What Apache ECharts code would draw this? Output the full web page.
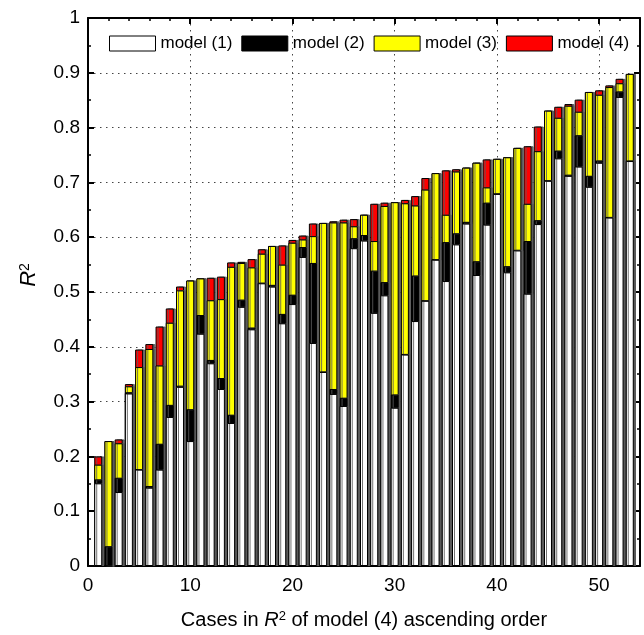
<!DOCTYPE html>
<html>
<head>
<meta charset="utf-8">
<script src="https://cdn.jsdelivr.net/npm/echarts@6/dist/echarts.min.js"></script>
<style>
  html, body { margin: 0; padding: 0; background: #fff; }
  #chart { width: 644px; height: 635px; }
</style>
</head>
<body>
<div id="chart"></div>
<script>
// R^2 of each model for the 53 cases, sorted by model (4)
const caseIds = Array.from({ length: 53 }, (_, i) => i + 1);

const model1 = [0.151, 0.000, 0.135, 0.315, 0.176, 0.143, 0.176, 0.272, 0.327, 0.228,
                0.424, 0.370, 0.323, 0.261, 0.473, 0.432, 0.516, 0.510, 0.443, 0.478,
                0.564, 0.407, 0.354, 0.314, 0.292, 0.580, 0.594, 0.462, 0.494, 0.289,
                0.386, 0.447, 0.484, 0.559, 0.520, 0.587, 0.625, 0.531, 0.623, 0.679,
                0.536, 0.576, 0.497, 0.624, 0.703, 0.744, 0.712, 0.729, 0.692, 0.736,
                0.636, 0.856, 0.739];

const model2 = [0.158, 0.036, 0.161, 0.317, 0.177, 0.146, 0.223, 0.294, 0.329, 0.286,
                0.458, 0.376, 0.343, 0.276, 0.486, 0.435, 0.517, 0.513, 0.460, 0.495,
                0.582, 0.553, 0.355, 0.323, 0.307, 0.598, 0.604, 0.539, 0.518, 0.313,
                0.387, 0.530, 0.485, 0.560, 0.591, 0.607, 0.628, 0.556, 0.663, 0.680,
                0.547, 0.577, 0.593, 0.631, 0.704, 0.758, 0.714, 0.786, 0.712, 0.740,
                0.637, 0.866, 0.740];

const model3 = [0.185, 0.228, 0.224, 0.328, 0.363, 0.396, 0.366, 0.444, 0.503, 0.521,
                0.525, 0.485, 0.487, 0.546, 0.553, 0.545, 0.570, 0.584, 0.550, 0.590,
                0.596, 0.602, 0.626, 0.627, 0.627, 0.620, 0.641, 0.593, 0.657, 0.664,
                0.662, 0.658, 0.687, 0.717, 0.641, 0.720, 0.727, 0.736, 0.691, 0.743,
                0.746, 0.763, 0.661, 0.757, 0.831, 0.818, 0.840, 0.829, 0.865, 0.860,
                0.874, 0.881, 0.898];

const model4 = [0.200, 0.228, 0.231, 0.332, 0.395, 0.405, 0.437, 0.470, 0.510, 0.521,
                0.525, 0.526, 0.528, 0.554, 0.555, 0.560, 0.578, 0.584, 0.585, 0.595,
                0.603, 0.625, 0.626, 0.629, 0.632, 0.633, 0.641, 0.661, 0.663, 0.664,
                0.668, 0.675, 0.708, 0.717, 0.722, 0.724, 0.727, 0.736, 0.742, 0.743,
                0.746, 0.763, 0.766, 0.802, 0.831, 0.838, 0.843, 0.851, 0.865, 0.868,
                0.877, 0.889, 0.898];

const seriesNames = ['model (1)', 'model (2)', 'model (3)', 'model (4)'];
const seriesColors = ['#ffffff', '#000000', '#ffff00', '#ff0000'];
const seriesValues = [model1, model2, model3, model4];

const FONT = "'Liberation Sans', Arial, Helvetica, sans-serif";

const chart = echarts.init(document.getElementById('chart'), null, { renderer: 'canvas' });

function pairs(vals) {
  return caseIds.map((c, i) => [c, vals[i]]);
}

// drawn back to front: the largest R^2 (model 4) sits behind the others
const series = [3, 2, 1, 0].map(k => ({
  name: seriesNames[k],
  type: 'bar',
  data: pairs(seriesValues[k]),
  barWidth: 8,
  barGap: '-100%',
  z: 2 + (3 - k),
  itemStyle: {
    color: seriesColors[k],
    borderColor: '#000',
    borderWidth: 1,
    shadowColor: 'rgba(90,90,90,0.85)',
    shadowOffsetX: 2,
    shadowBlur: 0
  },
  emphasis: { disabled: true },
  animation: false
}));

const axisLineStyle = { show: true, onZero: false, lineStyle: { color: '#000', width: 2 } };
const majorTick = { show: true, inside: true, length: 6, lineStyle: { color: '#000', width: 2 } };
function minor(n) {
  return { show: true, splitNumber: n, length: 3, lineStyle: { color: '#000', width: 1.5 } };
}
const gridDots = { show: true, lineStyle: { color: '#444', width: 1, type: [1.5, 4.5] } };

const option = {
  backgroundColor: '#fff',
  animation: false,
  textStyle: { fontFamily: FONT },
  grid: { left: 88, right: 4, top: 18, bottom: 66, containLabel: false },
  legend: {
    data: seriesNames,
    left: 104,
    top: 30,
    icon: 'rect',
    itemWidth: 46,
    itemHeight: 15,
    itemGap: 9,
    selectedMode: false,
    textStyle: { fontFamily: FONT, fontSize: 17, color: '#000' },
    itemStyle: { borderColor: '#000', borderWidth: 1, shadowColor: 'rgba(0,0,0,0)', shadowOffsetX: 0 }
  },
  xAxis: [
    {
      type: 'value',
      min: 0,
      max: 54,
      interval: 10,
      position: 'bottom',
      axisLine: axisLineStyle,
      axisTick: majorTick,
      minorTick: minor(5),
      axisLabel: { fontFamily: FONT, fontSize: 19, color: '#000', margin: 10, showMaxLabel: false },
      splitLine: gridDots,
      name: 'Cases in {it|R}{sup|2} of model (4) ascending order',
      nameLocation: 'middle',
      nameGap: 44,
      nameTextStyle: {
        fontFamily: FONT, fontSize: 20, color: '#000',
        rich: {
          it: { fontFamily: FONT, fontSize: 20, fontStyle: 'italic', color: '#000' },
          sup: { fontFamily: FONT, fontSize: 13, color: '#000', verticalAlign: 'top', padding: [0, 0, 6, 0] }
        }
      }
    },
    {
      type: 'value',
      min: 0,
      max: 54,
      interval: 10,
      position: 'top',
      axisLine: axisLineStyle,
      axisTick: majorTick,
      minorTick: minor(5),
      axisLabel: { show: false },
      splitLine: { show: false }
    }
  ],
  yAxis: [
    {
      type: 'value',
      min: 0,
      max: 1,
      interval: 0.1,
      position: 'left',
      axisLine: axisLineStyle,
      axisTick: majorTick,
      minorTick: minor(2),
      axisLabel: { fontFamily: FONT, fontSize: 19, color: '#000', margin: 8 },
      splitLine: gridDots,
      name: '{it|R}{sup|2}',
      nameLocation: 'middle',
      nameGap: 48,
      nameRotate: 90,
      nameTextStyle: {
        fontFamily: FONT, fontSize: 22, color: '#000',
        padding: [0, 0, 0, 34],
        rich: {
          it: { fontFamily: FONT, fontSize: 22, fontStyle: 'italic', color: '#000' },
          sup: { fontFamily: FONT, fontSize: 14, color: '#000', verticalAlign: 'top', padding: [0, 0, 6, 0] }
        }
      }
    },
    {
      type: 'value',
      min: 0,
      max: 1,
      interval: 0.1,
      position: 'right',
      axisLine: axisLineStyle,
      axisTick: majorTick,
      minorTick: minor(2),
      axisLabel: { show: false },
      splitLine: { show: false }
    }
  ],
  series: series
};

chart.setOption(option);
</script>
</body>
</html>
